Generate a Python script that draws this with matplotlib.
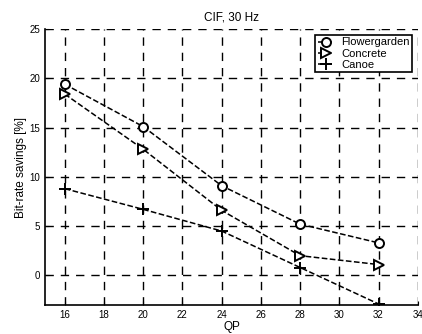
import matplotlib
matplotlib.use('Agg')
import matplotlib.pyplot as plt

qp = [16, 20, 24, 28, 32]
flowergarden = [19.4, 15.1, 9.1, 5.2, 3.3]
concrete = [18.4, 12.8, 6.6, 2.0, 1.1]
canoe = [8.8, 6.7, 4.5, 0.8, -2.9]

plt.rcParams['font.family'] = ['Liberation Sans', 'DejaVu Sans']

fig = plt.figure(figsize=(4.22, 3.34), dpi=100)
ax = fig.add_axes([0.107, 0.087, 0.883, 0.826])

ax.plot(qp, flowergarden, 'k--', marker='o', mfc='white', mec='k', ms=6.5, mew=1.4, lw=1.1, label='Flowergarden')
ax.plot(qp, concrete, 'k--', marker='>', mfc='white', mec='k', ms=6.5, mew=1.4, lw=1.1, label='Concrete')
ax.plot(qp, canoe, 'k--', marker='+', mec='k', ms=9, mew=1.4, lw=1.1, label='Canoe')

ax.set_xlim(15, 34)
ax.set_ylim(-3, 25)
ax.set_xticks(range(16, 35, 2))
ax.set_yticks(range(0, 26, 5))
ax.grid(True, color='k', linestyle=(0, (6, 5)), linewidth=1.0)
ax.spines['top'].set_visible(False)
ax.spines['right'].set_visible(False)
ax.spines['left'].set_linewidth(1.2)
ax.spines['bottom'].set_linewidth(1.2)
ax.tick_params(labelsize=7, direction='in', length=3)

ax.set_title('CIF, 30 Hz', fontsize=8.5, pad=6)
ax.set_xlabel('QP', fontsize=8.5, labelpad=1)
ax.set_ylabel('Bit-rate savings [%]', fontsize=8.5, labelpad=2)

leg = ax.legend(loc='upper right', fontsize=8, frameon=True, fancybox=False,
                edgecolor='k', framealpha=1, borderpad=0.25, handlelength=1.5,
                labelspacing=0.1, borderaxespad=0.5, handletextpad=0.6)
leg.get_frame().set_linewidth(1.2)

fig.savefig('out.png', dpi=100)
